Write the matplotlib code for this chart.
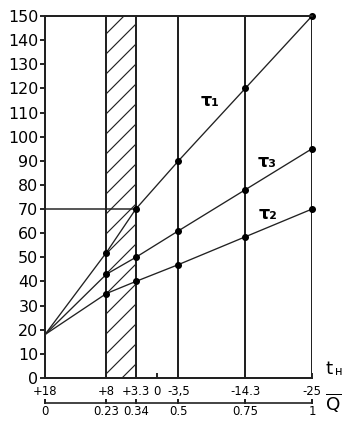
import matplotlib
matplotlib.use("Agg")
import matplotlib.pyplot as plt

# relative load Q and matching outdoor temperature t_н
q_points = [0, 0.23, 0.34, 0.5, 0.75, 1.0]
tau1 = [18, 52, 70, 90, 120, 150]
tau3 = [18, 43, 50, 61, 78, 95]
tau2 = [18, 35, 40, 47, 58.5, 70]

t_ticks_q = [0, 0.23, 0.34, 0.42, 0.5, 0.75, 1.0]
t_labels = ["+18", "+8", "+3.3", "0", "-3,5", "-14.3", "-25"]
q_ticks = [0, 0.23, 0.34, 0.5, 0.75, 1.0]
q_labels = ["0", "0.23", "0.34", "0.5", "0.75", "1"]
vlines_q = [0.23, 0.34, 0.5, 0.75, 1.0]
y_ticks = list(range(0, 151, 10))

plt.rcParams["hatch.linewidth"] = 0.7
fig = plt.figure(figsize=(358 / 120, 429 / 120), dpi=120)
ax = fig.add_axes([0.1257, 0.1189, 0.7458, 0.8438])
c = "#222222"

ax.axvspan(0.23, 0.34, facecolor="none", edgecolor=c, hatch="//", linewidth=0)
for q in vlines_q:
    ax.axvline(q, color=c, lw=1.2)
ax.hlines(70, 0, 0.34, color=c, lw=0.9)

for vals in (tau1, tau3, tau2):
    ax.plot(q_points, vals, color=c, lw=0.8)
    ax.plot(q_points[1:], vals[1:], "o", color="black", ms=3.2, clip_on=False)

ax.text(0.618, 114.8, "τ₁", fontsize=10.5, fontweight="bold", ha="center", va="center")
ax.text(0.831, 89.5, "τ₃", fontsize=10.5, fontweight="bold", ha="center", va="center")
ax.text(0.835, 68, "τ₂", fontsize=10.5, fontweight="bold", ha="center", va="center")

ax.set_xlim(0, 1)
ax.set_ylim(0, 150)
ax.set_yticks(y_ticks)
ax.tick_params(axis="y", direction="out", length=3, width=1, labelsize=9.5, pad=1)
ax.set_xticks(t_ticks_q)
ax.set_xticklabels(t_labels)
ax.tick_params(axis="x", direction="in", length=3, width=1, labelsize=7, pad=4.5)
for s in ("left", "bottom", "top"):
    ax.spines[s].set_linewidth(1.2)
    ax.spines[s].set_color(c)
ax.spines["right"].set_visible(False)

# second scale (Q) below the temperature scale
tr = ax.get_xaxis_transform()
ax.plot([0, 1], [-0.069, -0.069], color=c, lw=1, transform=tr, clip_on=False)
for q, lab in zip(q_ticks, q_labels):
    ax.plot([q, q], [-0.069, -0.062], color=c, lw=1.2, transform=tr, clip_on=False)
    ax.text(q, -0.075, lab, fontsize=7, ha="center", va="top", transform=tr)

ax.text(1.05, 0.0, "t", fontsize=11, ha="left", va="bottom", transform=ax.transAxes)
ax.text(1.085, 0.0, "н", fontsize=7, ha="left", va="bottom", transform=ax.transAxes)
ax.text(1.05, -0.07, r"$\overline{\mathrm{Q}}$", fontsize=11, ha="left", va="center",
        transform=ax.transAxes)

fig.savefig("out.png", dpi=120)
